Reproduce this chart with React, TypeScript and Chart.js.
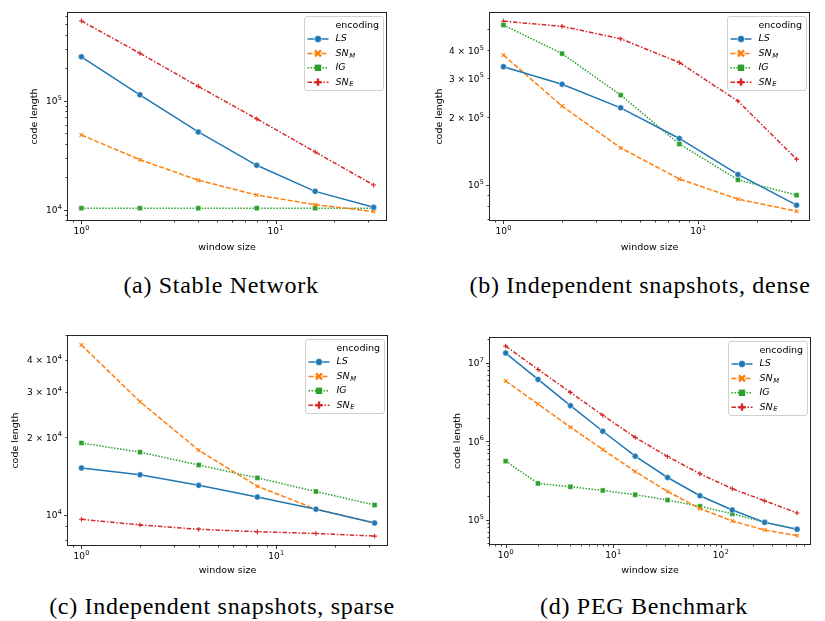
import React, { useEffect, useRef } from 'react';
import { Chart, registerables } from 'chart.js';

Chart.register(...registerables);

// ---------- data ----------
const windowSizes = [1, 2, 4, 8, 16, 32];
const windowSizesPeg = [1, 2, 4, 8, 16, 32, 64, 128, 256, 512];

const seriesNames = ['LS', 'SN_M', 'IG', 'SN_E'];

const stableLS = [2.52e5, 1.13e5, 5.16e4, 2.55e4, 1.47e4, 1.05e4];
const stableSNM = [4.84e4, 2.87e4, 1.86e4, 1.36e4, 1.11e4, 9.6e3];
const stableIG = [1.03e4, 1.03e4, 1.03e4, 1.03e4, 1.03e4, 1.03e4];
const stableSNE = [5.38e5, 2.72e5, 1.35e5, 6.8e4, 3.38e4, 1.68e4];

const denseLS = [3.38e5, 2.82e5, 2.21e5, 1.61e5, 1.11e5, 8.08e4];
const denseSNM = [3.81e5, 2.25e5, 1.46e5, 1.06e5, 8.6e4, 7.59e4];
const denseIG = [5.2e5, 3.87e5, 2.52e5, 1.52e5, 1.05e5, 8.96e4];
const denseSNE = [5.41e5, 5.13e5, 4.51e5, 3.53e5, 2.37e5, 1.3e5];

const sparseLS = [1.52e4, 1.43e4, 1.3e4, 1.17e4, 1.05e4, 9.28e3];
const sparseSNM = [4.57e4, 2.75e4, 1.78e4, 1.29e4, 1.05e4, 9.28e3];
const sparseIG = [1.9e4, 1.75e4, 1.56e4, 1.39e4, 1.23e4, 1.09e4];
const sparseSNE = [9.59e3, 9.12e3, 8.77e3, 8.58e3, 8.45e3, 8.25e3];

const pegLS = [1.33e7, 6.14e6, 2.84e6, 1.34e6, 6.45e5, 3.45e5, 2.02e5, 1.33e5, 9.25e4, 7.54e4];
const pegSNM = [5.85e6, 2.98e6, 1.51e6, 7.84e5, 4.11e5, 2.29e5, 1.39e5, 9.61e4, 7.39e4, 6.27e4];
const pegIG = [5.57e5, 2.9e5, 2.63e5, 2.36e5, 2.08e5, 1.78e5, 1.48e5, 1.19e5, 9.25e4, 7.54e4];
const pegSNE = [1.63e7, 8.22e6, 4.2e6, 2.14e6, 1.12e6, 6.38e5, 3.85e5, 2.48e5, 1.74e5, 1.22e5];

// labelled non-decade mantissas on y axes
const denseYLabeled = [2, 3, 4];
const sparseYLabeled = [2, 3, 4];

const captionA = '(a) Stable Network';
const captionB = '(b) Independent snapshots, dense';
const captionC = '(c) Independent snapshots, sparse';
const captionD = '(d) PEG Benchmark';

const legendTitle = 'encoding';
const xTitle = 'window size';
const yTitle = 'code length';

// ---------- styles ----------
const seriesColors = ['#1f77b4', '#ff7f0e', '#2ca02c', '#d62728'];
const seriesDashes = [[], [5, 2], [1.5, 1.5], [4.5, 1.8, 1.5, 1.8]];
const pointStyles = ['circle', 'crossRot', 'rect', 'cross'];
const pointRadii = [3, 2.6, 3.6, 2.4];

const SANS = '"DejaVu Sans", sans-serif';
const FS = 9.5; // axis titles / legend
const TFS = 9; // tick label main
const SFS = 6.5; // tick label exponent

function logTicks(min: number, max: number) {
  const out: { value: number }[] = [];
  for (let e = Math.floor(Math.log10(min)) - 1; e <= Math.ceil(Math.log10(max)); e++) {
    for (let k = 1; k <= 9; k++) {
      const v = k * Math.pow(10, e);
      if (v >= min && v <= max) out.push({ value: v });
    }
  }
  return out;
}

function mantExp(v: number) {
  const e = Math.floor(Math.log10(v) + 1e-9);
  const k = Math.round(v / Math.pow(10, e));
  return { k, e };
}

// returns [base, exponent] or null when the tick is unlabeled
function tickParts(v: number, labeled: number[]): [string, string] | null {
  const { k, e } = mantExp(v);
  if (k === 1) return ['10', String(e)];
  if (labeled.includes(k)) return [k + ' × 10', String(e)];
  return null;
}

function drawTickLabel(
  ctx: CanvasRenderingContext2D,
  parts: [string, string],
  anchorX: number,
  cy: number,
  mode: 'center' | 'right'
) {
  ctx.font = `${TFS}px ${SANS}`;
  const wm = ctx.measureText(parts[0]).width;
  ctx.font = `${SFS}px ${SANS}`;
  const ws = ctx.measureText(parts[1]).width;
  const total = wm + ws + 0.4;
  const x0 = mode === 'center' ? anchorX - total / 2 : anchorX - total;
  ctx.textAlign = 'left';
  ctx.textBaseline = 'middle';
  ctx.font = `${TFS}px ${SANS}`;
  ctx.fillText(parts[0], x0, cy);
  ctx.font = `${SFS}px ${SANS}`;
  ctx.fillText(parts[1], x0 + wm + 0.4, cy - 3.6);
}

function drawLegendLabel(ctx: CanvasRenderingContext2D, name: string, x: number, y: number) {
  const [main, sub] = name.split('_');
  ctx.font = `italic ${FS}px ${SANS}`;
  ctx.fillText(main, x, y);
  if (sub) {
    const w = ctx.measureText(main).width;
    ctx.font = `italic 6.8px ${SANS}`;
    ctx.fillText(sub, x + w + 0.5, y + 2.5);
  }
}

function drawLegendMarker(ctx: CanvasRenderingContext2D, i: number, x: number, y: number) {
  const c = seriesColors[i];
  ctx.save();
  ctx.setLineDash([]);
  if (i === 0) {
    ctx.beginPath();
    ctx.arc(x, y, 3.6, 0, Math.PI * 2);
    ctx.fillStyle = c;
    ctx.fill();
    ctx.strokeStyle = '#fff';
    ctx.lineWidth = 0.6;
    ctx.stroke();
  } else if (i === 2) {
    ctx.fillStyle = c;
    ctx.fillRect(x - 3.2, y - 3.2, 6.4, 6.4);
  } else {
    ctx.strokeStyle = c;
    ctx.lineWidth = 2.4;
    ctx.beginPath();
    if (i === 1) {
      ctx.moveTo(x - 3, y - 3);
      ctx.lineTo(x + 3, y + 3);
      ctx.moveTo(x - 3, y + 3);
      ctx.lineTo(x + 3, y - 3);
    } else {
      ctx.moveTo(x - 3.6, y);
      ctx.lineTo(x + 3.6, y);
      ctx.moveTo(x, y - 3.6);
      ctx.lineTo(x, y + 3.6);
    }
    ctx.stroke();
  }
  ctx.restore();
}

const framePlugin = {
  id: 'frameTicksLegend',
  afterDraw(chart: any) {
    const { ctx, chartArea: ca } = chart;
    const yLabeled: number[] = chart.options.plugins.frameTicksLegend.yLabeled;
    ctx.save();
    // frame
    ctx.strokeStyle = '#262626';
    ctx.lineWidth = 1;
    ctx.setLineDash([]);
    const l = Math.round(ca.left) + 0.5;
    const t = Math.round(ca.top) + 0.5;
    const r = Math.round(ca.right) - 0.5;
    const b = Math.round(ca.bottom) - 0.5;
    ctx.strokeRect(l, t, r - l, b - t);

    // tick marks
    ctx.lineWidth = 0.9;
    ctx.beginPath();
    const xs = chart.scales.x;
    for (const tk of xs.ticks) {
      const p = Math.round(xs.getPixelForValue(tk.value)) + 0.5;
      const len = mantExp(tk.value).k === 1 ? 3.5 : 2;
      ctx.moveTo(p, b);
      ctx.lineTo(p, b + len);
    }
    const ys = chart.scales.y;
    for (const tk of ys.ticks) {
      const p = Math.round(ys.getPixelForValue(tk.value)) + 0.5;
      const len = mantExp(tk.value).k === 1 ? 3.5 : 2;
      ctx.moveTo(l, p);
      ctx.lineTo(l - len, p);
    }
    ctx.stroke();

    // tick labels
    ctx.fillStyle = '#000';
    for (const tk of xs.ticks) {
      const parts = tickParts(tk.value, []);
      if (!parts) continue;
      drawTickLabel(ctx, parts, xs.getPixelForValue(tk.value), b + 11, 'center');
    }
    for (const tk of ys.ticks) {
      const parts = tickParts(tk.value, yLabeled);
      if (!parts) continue;
      drawTickLabel(ctx, parts, l - 5.5, ys.getPixelForValue(tk.value) + 1, 'right');
    }

    // legend
    const bw = 79;
    const bh = 74;
    const bx = Math.round(ca.right - 4 - bw) + 0.5;
    const by = Math.round(ca.top + 4) + 0.5;
    ctx.beginPath();
    if ((ctx as any).roundRect) (ctx as any).roundRect(bx, by, bw, bh, 2.5);
    else ctx.rect(bx, by, bw, bh);
    ctx.fillStyle = 'rgba(255,255,255,0.85)';
    ctx.fill();
    ctx.strokeStyle = '#d0d0d0';
    ctx.lineWidth = 1;
    ctx.stroke();

    ctx.fillStyle = '#000';
    ctx.textBaseline = 'middle';
    ctx.textAlign = 'left';
    ctx.font = `${FS}px ${SANS}`;
    ctx.fillText(legendTitle, bx + 31, by + 9);
    seriesNames.forEach((name, i) => {
      const y = by + 22.5 + i * 14.4;
      ctx.save();
      ctx.strokeStyle = seriesColors[i];
      ctx.lineWidth = 1.5;
      ctx.setLineDash(seriesDashes[i]);
      ctx.beginPath();
      ctx.moveTo(bx + 3, y);
      ctx.lineTo(bx + 24, y);
      ctx.stroke();
      ctx.restore();
      drawLegendMarker(ctx, i, bx + 13.5, y);
      ctx.fillStyle = '#000';
      drawLegendLabel(ctx, name, bx + 31, y);
    });
    ctx.restore();
  },
};

type PanelCfg = {
  left: number;
  top: number;
  width: number;
  height: number;
  padLeft: number;
  padRight: number;
  padTop: number;
  yWidth: number;
  xHeight: number;
  xs: number[];
  series: number[][];
  xMin: number;
  xMax: number;
  yMin: number;
  yMax: number;
  yLabeled: number[];
};

const panels: PanelCfg[] = [
  {
    left: 0, top: 0, width: 410, height: 255,
    padLeft: 29, padRight: 23, padTop: 12, yWidth: 38, xHeight: 34,
    xs: windowSizes, series: [stableLS, stableSNM, stableIG, stableSNE],
    xMin: 0.843, xMax: 37.5, yMin: 7.86e3, yMax: 6.5e5, yLabeled: [],
  },
  {
    left: 410, top: 0, width: 415, height: 255,
    padLeft: 24, padRight: 15, padTop: 12, yWidth: 55, xHeight: 34,
    xs: windowSizes, series: [denseLS, denseSNM, denseIG, denseSNE],
    xMin: 0.843, xMax: 37.5, yMin: 6.86e4, yMax: 5.95e5, yLabeled: denseYLabeled,
  },
  {
    left: 0, top: 320, width: 410, height: 258,
    padLeft: 10, padRight: 22, padTop: 15, yWidth: 57, xHeight: 32,
    xs: windowSizes, series: [sparseLS, sparseSNM, sparseIG, sparseSNE],
    xMin: 0.843, xMax: 37.5, yMin: 7.55e3, yMax: 5.0e4, yLabeled: sparseYLabeled,
  },
  {
    left: 410, top: 320, width: 415, height: 258,
    padLeft: 42, padRight: 14, padTop: 17, yWidth: 37, xHeight: 33,
    xs: windowSizesPeg, series: [pegLS, pegSNM, pegIG, pegSNE],
    xMin: 0.735, xMax: 690, yMin: 4.76e4, yMax: 2.13e7, yLabeled: [],
  },
];

const captions = [
  { text: captionA, cx: 221, cy: 285 },
  { text: captionB, cx: 640, cy: 285 },
  { text: captionC, cx: 222, cy: 606 },
  { text: captionD, cx: 644, cy: 606 },
];

function buildConfig(cfg: PanelCfg): any {
  const titleFont = { family: SANS, size: FS };
  return {
    type: 'line',
    data: {
      datasets: cfg.series.map((vals, i) => ({
        label: seriesNames[i],
        data: cfg.xs.map((x, j) => ({ x, y: vals[j] })),
        borderColor: seriesColors[i],
        backgroundColor: seriesColors[i],
        borderWidth: 1.5,
        borderDash: seriesDashes[i],
        tension: 0,
        fill: false,
        pointStyle: pointStyles[i],
        pointRadius: pointRadii[i],
        pointBorderColor: i === 0 || i === 2 ? '#ffffff' : seriesColors[i],
        pointBorderWidth: i === 0 || i === 2 ? 0.5 : 1.1,
        pointBackgroundColor: seriesColors[i],
      })),
    },
    options: {
      responsive: false,
      animation: false,
      events: [],
      layout: { padding: { left: cfg.padLeft, right: cfg.padRight, top: cfg.padTop, bottom: 0 } },
      plugins: {
        legend: { display: false },
        tooltip: { enabled: false },
        frameTicksLegend: { yLabeled: cfg.yLabeled },
      },
      scales: {
        x: {
          type: 'logarithmic',
          min: cfg.xMin,
          max: cfg.xMax,
          grid: { display: false, drawTicks: false },
          border: { display: false },
          ticks: { display: false, autoSkip: false, maxRotation: 0 },
          title: { display: true, text: xTitle, color: '#000', font: titleFont, padding: { top: 0, bottom: 2 } },
          afterBuildTicks: (s: any) => {
            s.ticks = logTicks(s.min, s.max);
          },
          afterFit: (s: any) => {
            s.height = cfg.xHeight;
          },
        },
        y: {
          type: 'logarithmic',
          min: cfg.yMin,
          max: cfg.yMax,
          grid: { display: false, drawTicks: false },
          border: { display: false },
          ticks: { display: false, autoSkip: false },
          title: { display: true, text: yTitle, color: '#000', font: titleFont, padding: { top: 0, bottom: 0 } },
          afterBuildTicks: (s: any) => {
            s.ticks = logTicks(s.min, s.max);
          },
          afterFit: (s: any) => {
            s.width = cfg.yWidth;
          },
        },
      },
    },
    plugins: [framePlugin],
  };
}

function Panel({ cfg }: { cfg: PanelCfg }) {
  const ref = useRef<HTMLCanvasElement>(null);
  useEffect(() => {
    const chart = new Chart(ref.current as HTMLCanvasElement, buildConfig(cfg));
    return () => chart.destroy();
  }, [cfg]);
  return (
    <canvas
      ref={ref}
      width={cfg.width}
      height={cfg.height}
      style={{ position: 'absolute', left: cfg.left, top: cfg.top, width: cfg.width, height: cfg.height }}
    />
  );
}

export default function App() {
  return (
    <div
      style={{
        position: 'absolute',
        left: 0,
        top: 0,
        width: 825,
        height: 621,
        background: '#fff',
        overflow: 'hidden',
      }}
    >
      {panels.map((p, i) => (
        <Panel key={i} cfg={p} />
      ))}
      {captions.map((c, i) => (
        <div
          key={'c' + i}
          style={{
            position: 'absolute',
            left: c.cx - 250,
            top: c.cy - 15,
            width: 500,
            height: 30,
            lineHeight: '30px',
            textAlign: 'center',
            fontFamily: '"Liberation Serif", serif',
            fontSize: 24,
            letterSpacing: '0.7px',
            color: '#000',
            whiteSpace: 'nowrap',
          }}
        >
          {c.text}
        </div>
      ))}
    </div>
  );
}
